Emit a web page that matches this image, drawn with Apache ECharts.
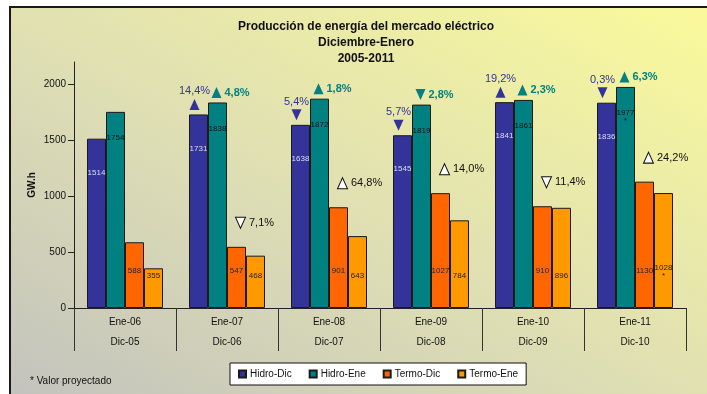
<!DOCTYPE html>
<html>
<head>
<meta charset="utf-8">
<script src="https://cdn.jsdelivr.net/npm/echarts@6/dist/echarts.min.js"></script>
<style>
html,body{margin:0;padding:0;background:#fff;}
#frame{position:absolute;left:9px;top:6px;width:730px;height:400px;border:2px solid #1a1a1a;
 background:linear-gradient(to top right,#c2c2be 0%,#dedeb4 45%,#fbfb9a 100%);}
#chart{position:absolute;left:0;top:0;width:707px;height:394px;}
</style>
</head>
<body>
<div id="frame"></div>
<div id="chart"></div>
<script>
const catEne = ['Ene-06','Ene-07','Ene-08','Ene-09','Ene-10','Ene-11'];
const catDic = ['Dic-05','Dic-06','Dic-07','Dic-08','Dic-09','Dic-10'];
const hidroDic = [1514, 1731, 1638, 1545, 1841, 1836];
const hidroEne = [1754, 1838, 1872, 1819, 1861, 1977];
const termoDic = [588, 547, 901, 1027, 910, 1130];
const termoEne = [355, 468, 643, 784, 896, 1028];
const projected = [false, false, false, false, false, true];
const hidroDicChg = [null, 14.4, -5.4, -5.7, 19.2, -0.3];
const hidroEneChg = [null, 4.8, 1.8, -2.8, 2.3, 6.3];
const termoChg = [null, -7.1, 64.8, 14.0, -11.4, 24.2];
const yTicks = [0, 500, 1000, 1500, 2000];

const UP = 'path://M5,0 L10,11 L0,11 Z';
const DOWN = 'path://M0,0 L10,0 L5,11 Z';
const FONT = "'Liberation Sans', Arial, sans-serif";
const NARROW = "'Liberation Sans Narrow', 'Liberation Sans', Arial, sans-serif";
const fmtPct = v => Math.abs(v).toFixed(1).replace('.', ',') + '%';

function annData(chg, base) {
  const out = [];
  chg.forEach((c, i) => {
    if (c === null) return;
    out.push({ value: [i, base[i]], symbol: c >= 0 ? UP : DOWN, chg: c });
  });
  return out;
}

const chart = echarts.init(document.getElementById('chart'), null, { renderer: 'canvas' });
const border = { borderColor: '#1a1a1a', borderWidth: 1 };
function barLabel(color, pos, dist, isEne) {
  return {
    show: true, position: pos, distance: dist, color: color,
    fontSize: 8, fontFamily: NARROW, lineHeight: 8,
    formatter: p => String(p.value) + (isEne && projected[p.dataIndex] ? '\n*' : '')
  };
}
function annSeries(name, chg, base, offset, fill, stroke, txtColor, pos, bold) {
  return {
    type: 'scatter', name: name, data: annData(chg, base),
    symbolSize: [10, 11], symbolOffset: offset, z: 5,
    itemStyle: { color: fill, borderColor: stroke, borderWidth: stroke === 'none' ? 0 : 1, opacity: 1 },
    label: {
      show: true, position: pos, distance: pos === 'top' ? 2 : 3, color: txtColor,
      fontSize: 11, fontFamily: FONT, fontWeight: bold ? 'bold' : 'normal',
      formatter: p => fmtPct(p.data.chg)
    },
    emphasis: { disabled: true }, silent: true, tooltip: { show: false }
  };
}

chart.setOption({
  animation: false,
  backgroundColor: 'transparent',
  graphic: [
    { type: 'text', x: 366, y: 19, style: {
      text: 'Producción de energía del mercado eléctrico\nDiciembre-Enero\n2005-2011',
      font: 'bold 12px ' + FONT, fill: '#111', align: 'center', lineHeight: 16
    } },
    { type: 'text', left: 30, top: 376, style: { text: '* Valor proyectado', font: '10px ' + FONT, fill: '#111' } }
  ],
  grid: { left: 74, right: 21, top: 62, bottom: 86, containLabel: false },
  legend: {
    data: ['Hidro-Dic', 'Hidro-Ene', 'Termo-Dic', 'Termo-Ene'],
    left: 230, top: 363, padding: [6, 8, 6, 8], itemGap: 17,
    itemWidth: 7, itemHeight: 7, icon: 'rect',
    backgroundColor: '#fff', borderColor: '#111', borderWidth: 1, borderRadius: 0,
    textStyle: { fontSize: 10, fontFamily: FONT, color: '#111', padding: [0, 0, 0, -1] },
    selectedMode: false
  },
  xAxis: {
    type: 'category', data: catEne,
    axisLine: { lineStyle: { color: '#222', width: 1 } },
    axisTick: { show: true, interval: 0, length: 43, lineStyle: { color: '#333' } },
    axisLabel: {
      interval: 0, margin: 4, fontSize: 10, fontFamily: FONT, color: '#111', lineHeight: 20,
      formatter: (v, i) => v + '\n' + catDic[i]
    }
  },
  yAxis: {
    type: 'value', min: 0, max: 2200, interval: 500,
    name: 'GW.h', nameLocation: 'middle', nameGap: 37, nameMoveOverlap: false,
    nameTextStyle: { fontSize: 10, fontWeight: 'bold', fontFamily: FONT, color: '#111' },
    axisLine: { show: true, lineStyle: { color: '#222' } },
    axisTick: { show: true, length: 6, customValues: yTicks, lineStyle: { color: '#222' } },
    axisLabel: { customValues: yTicks, margin: 8, fontSize: 10, fontFamily: FONT, color: '#111',
      formatter: v => String(v) },
    splitLine: { show: false }
  },
  series: [
    { type: 'bar', name: 'Hidro-Dic', data: hidroDic, barWidth: 19, barGap: '0%',
      itemStyle: Object.assign({ color: '#333399' }, border), label: barLabel('#dcdcff', 'insideTop', 30, false) },
    { type: 'bar', name: 'Hidro-Ene', data: hidroEne, barWidth: 19, barGap: '0%',
      itemStyle: Object.assign({ color: '#008080' }, border), label: barLabel('#111', 'insideTop', 22, true) },
    { type: 'bar', name: 'Termo-Dic', data: termoDic, barWidth: 19, barGap: '0%',
      itemStyle: Object.assign({ color: '#ff6600' }, border), label: barLabel('#222', 'insideBottom', 33, false) },
    { type: 'bar', name: 'Termo-Ene', data: termoEne, barWidth: 19, barGap: '0%',
      itemStyle: Object.assign({ color: '#ff9900' }, border), label: barLabel('#222', 'insideBottom', 28, true) },
    annSeries('ann-hd', hidroDicChg, hidroDic, [-32.5, -10], '#333399', 'none', '#333399', 'top', false),
    annSeries('ann-he', hidroEneChg, hidroEne, [-10.5, -10], '#008080', 'none', '#008080', 'right', true),
    annSeries('ann-t', termoChg, termoDic, [13.5, -24], '#ffffff', '#111', '#111', 'right', false)
  ]
});
</script>
</body>
</html>
